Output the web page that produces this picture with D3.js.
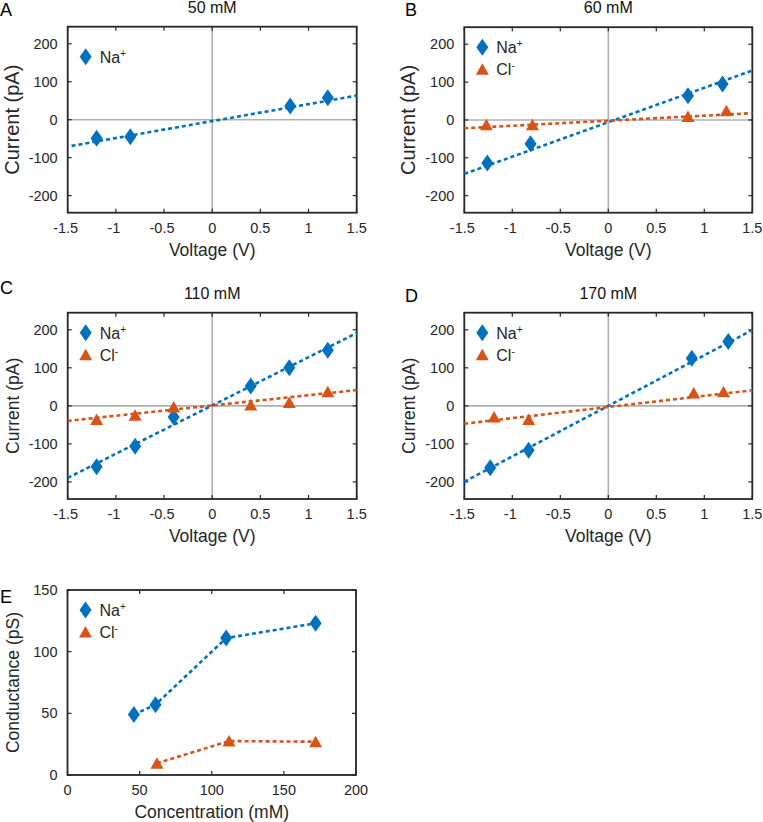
<!DOCTYPE html>
<html>
<head>
<meta charset="utf-8">
<script src="https://cdnjs.cloudflare.com/ajax/libs/d3/7.8.5/d3.min.js"></script>
<style>
  body { margin: 0; background: #fff; }
  svg { display: block; font-family: "Liberation Sans", Arial, sans-serif; }
  .tick-label { font-size: 14.5px; fill: #262626; }
  .axis-title { font-size: 17.5px; fill: #262626; }
  .panel-title { font-size: 16px; fill: #111; }
  .panel-letter { font-size: 18px; fill: #000; }
  .legend-text { font-size: 16px; fill: #262626; }
</style>
</head>
<body>
<div id="chart"></div>
<script>
// I-V panels (A-D) and conductance summary (E)

const voltageTicks = [-1.5, -1, -0.5, 0, 0.5, 1, 1.5];
const currentTicks = [-200, -100, 0, 100, 200];
const concTicks = [0, 50, 100, 150, 200];
const condTicks = [0, 50, 100, 150];

// A - 50 mM
const naV_A = [-1.2, -0.85, 0.81, 1.2];
const naI_A = [-49, -45, 36, 58];
const naFit_A = { slope: 44.7, intercept: -3.7, from: -1.46, to: 1.5 };

// B - 60 mM
const naV_B = [-1.26, -0.81, 0.83, 1.19];
const naI_B = [-114, -63, 64, 95];
const clV_B = [-1.27, -0.79, 0.83, 1.23];
const clI_B = [-13, -13, 9, 24];
const naFit_B = { slope: 91, intercept: -6, from: -1.5, to: 1.5 };
const clFit_B = { slope: 13.3, intercept: -2, from: -1.5, to: 1.5 };

// C - 110 mM
const naV_C = [-1.2, -0.8, -0.4, 0.4, 0.8, 1.2];
const naI_C = [-160, -106, -29, 52, 100, 146];
const clV_C = [-1.2, -0.8, -0.4, 0.4, 0.8, 1.2];
const clI_C = [-36, -25, -3, 2, 9, 37];
const naFit_C = { slope: 127, intercept: 1, from: -1.5, to: 1.5 };
const clFit_C = { slope: 27, intercept: 1, from: -1.5, to: 1.5 };

// D - 170 mM
const naV_D = [-1.23, -0.83, 0.87, 1.25];
const naI_D = [-163, -117, 125, 169];
const clV_D = [-1.19, -0.83, 0.89, 1.2];
const clI_D = [-29, -36, 34, 37];
const naFit_D = { slope: 133, intercept: 0, from: -1.5, to: 1.5 };
const clFit_D = { slope: 29.3, intercept: -3, from: -1.5, to: 1.5 };

// E - conductance vs concentration
const naConc = [46, 61, 110, 172];
const naCond = [49, 57, 111, 123];
const clConc = [62, 112, 172];
const clCond = [9.5, 27.5, 27];

const NA_COLOR = '#0072BD';
const CL_COLOR = '#D95319';
const AXIS_COLOR = '#262626';

const width = 763, height = 822;
const svg = d3.select('#chart').append('svg')
    .attr('width', width)
    .attr('height', height);

const zip = (xs, ys) => xs.map((x, i) => ({ x, y: ys[i] }));
const fitPoints = f => [f.from, f.to].map(v => ({ x: v, y: f.slope * v + f.intercept }));

function diamond(g, x, y, color) {
    g.append('path')
        .attr('d', `M${x},${y - 8.5}L${x + 6},${y}L${x},${y + 8.5}L${x - 6},${y}Z`)
        .attr('fill', color);
}

function triangle(g, x, y, color) {
    g.append('path')
        .attr('d', `M${x},${y - 6}L${x + 6.5},${y + 5.5}L${x - 6.5},${y + 5.5}Z`)
        .attr('fill', color);
}

function ionLabel(g, x, y, base, sup) {
    const t = g.append('text').attr('class', 'legend-text').attr('x', x).attr('y', y);
    t.append('tspan').text(base);
    t.append('tspan').attr('font-size', '10px').attr('dy', -6).text(sup);
}

function drawPanel(p) {
    const g = svg.append('g');
    const x = d3.scaleLinear().domain(p.xDomain).range([p.left, p.right]);
    const y = d3.scaleLinear().domain(p.yDomain).range([p.bottom, p.top]);

    // zero lines
    if (p.zeroLines) {
        g.append('line')
            .attr('x1', x(0)).attr('x2', x(0))
            .attr('y1', p.top).attr('y2', p.bottom)
            .attr('stroke', '#b0b0b0').attr('stroke-width', 1.6);
        g.append('line')
            .attr('x1', p.left).attr('x2', p.right)
            .attr('y1', y(0)).attr('y2', y(0))
            .attr('stroke', '#b0b0b0').attr('stroke-width', 1.6);
    }

    // inner ticks on all four sides (matlab box)
    const tl = 4;
    p.xTicks.forEach(t => {
        g.append('line').attr('x1', x(t)).attr('x2', x(t))
            .attr('y1', p.bottom).attr('y2', p.bottom - tl)
            .attr('stroke', AXIS_COLOR).attr('stroke-width', 1.2);
        g.append('line').attr('x1', x(t)).attr('x2', x(t))
            .attr('y1', p.top).attr('y2', p.top + tl)
            .attr('stroke', AXIS_COLOR).attr('stroke-width', 1.2);
        g.append('text').attr('class', 'tick-label')
            .attr('x', x(t) - (t < 0 ? 2 : 0)).attr('y', p.bottom + 20)
            .attr('text-anchor', 'middle')
            .text(String(t));
    });
    p.yTicks.forEach(t => {
        g.append('line').attr('x1', p.left).attr('x2', p.left + tl)
            .attr('y1', y(t)).attr('y2', y(t))
            .attr('stroke', AXIS_COLOR).attr('stroke-width', 1.2);
        g.append('line').attr('x1', p.right).attr('x2', p.right - tl)
            .attr('y1', y(t)).attr('y2', y(t))
            .attr('stroke', AXIS_COLOR).attr('stroke-width', 1.2);
        g.append('text').attr('class', 'tick-label')
            .attr('x', p.left - 10).attr('y', y(t) + 5)
            .attr('text-anchor', 'end')
            .text(String(t));
    });

    // box
    g.append('rect')
        .attr('x', p.left).attr('y', p.top)
        .attr('width', p.right - p.left).attr('height', p.bottom - p.top)
        .attr('fill', 'none').attr('stroke', AXIS_COLOR).attr('stroke-width', 1.8);

    const line = d3.line().x(d => x(d.x)).y(d => y(d.y));

    p.series.forEach(s => {
        g.append('path')
            .datum(s.line)
            .attr('d', line)
            .attr('fill', 'none')
            .attr('stroke', s.color)
            .attr('stroke-width', 2.6)
            .attr('stroke-dasharray', '4,3');
    });
    p.series.forEach(s => {
        s.points.forEach(d => s.marker(g, x(d.x), y(d.y), s.color));
    });

    // legend
    p.series.forEach((s, i) => {
        const ly = p.top + p.legendTop + i * 22;
        s.marker(g, p.left + 18, ly, s.color);
        ionLabel(g, p.left + 32, ly + 6, s.ion, s.sup);
    });

    // titles
    if (p.title) {
        g.append('text').attr('class', 'panel-title')
            .attr('x', (p.left + p.right) / 2).attr('y', p.top - 14)
            .attr('text-anchor', 'middle').text(p.title);
    }
    g.append('text').attr('class', 'panel-letter')
        .attr('x', p.letterX).attr('y', p.letterY).text(p.letter);

    g.append('text').attr('class', 'axis-title')
        .attr('x', (p.left + p.right) / 2).attr('y', p.bottom + 43)
        .attr('text-anchor', 'middle').text(p.xLabel);
    const yl = g.append('text').attr('class', 'axis-title')
        .attr('transform', `translate(${p.left - 49},${(p.top + p.bottom) / 2}) rotate(-90)`)
        .attr('text-anchor', 'middle').text(p.yLabel);
    if (p.yLabelSize) yl.style('font-size', p.yLabelSize + 'px');
}

const naSeries = (xs, ys, fit) => ({ ion: 'Na', sup: '+', color: NA_COLOR, marker: diamond, points: zip(xs, ys), line: fitPoints(fit) });
const clSeries = (xs, ys, fit) => ({ ion: 'Cl', sup: '-', color: CL_COLOR, marker: triangle, points: zip(xs, ys), line: fitPoints(fit) });

const ivBase = {
    xDomain: [-1.5, 1.5], yDomain: [-245, 245],
    xTicks: voltageTicks, yTicks: currentTicks,
    xLabel: 'Voltage (V)', yLabel: 'Current (pA)', zeroLines: true
};

drawPanel(Object.assign({}, ivBase, {
    left: 67.7, right: 356.7, top: 26.7, bottom: 212.7,
    title: '50 mM', letter: 'A', letterX: 0, letterY: 16, legendTop: 30,
    yLabelSize: 20,
    series: [naSeries(naV_A, naI_A, naFit_A)]
}));
drawPanel(Object.assign({}, ivBase, {
    left: 464.3, right: 752.3, top: 27.2, bottom: 212.7,
    title: '60 mM', letter: 'B', letterX: 405, letterY: 16, legendTop: 20,
    yLabelSize: 20,
    series: [naSeries(naV_B, naI_B, naFit_B), clSeries(clV_B, clI_B, clFit_B)]
}));
drawPanel(Object.assign({}, ivBase, {
    left: 67.7, right: 356.7, top: 312.7, bottom: 499,
    title: '110 mM', letter: 'C', letterX: 0, letterY: 294, legendTop: 20,
    series: [naSeries(naV_C, naI_C, naFit_C), clSeries(clV_C, clI_C, clFit_C)]
}));
drawPanel(Object.assign({}, ivBase, {
    left: 464.3, right: 752.3, top: 312.7, bottom: 499,
    title: '170 mM', letter: 'D', letterX: 405, letterY: 302, legendTop: 20,
    series: [naSeries(naV_D, naI_D, naFit_D), clSeries(clV_D, clI_D, clFit_D)]
}));
drawPanel({
    xDomain: [0, 200], yDomain: [0, 150],
    xTicks: concTicks, yTicks: condTicks,
    xLabel: 'Concentration (mM)', yLabel: 'Conductance (pS)', zeroLines: false,
    left: 67.5, right: 356, top: 590, bottom: 775,
    title: null, letter: 'E', letterX: 0, letterY: 603, legendTop: 20,
    series: [
        { ion: 'Na', sup: '+', color: NA_COLOR, marker: diamond, points: zip(naConc, naCond), line: zip(naConc, naCond) },
        { ion: 'Cl', sup: '-', color: CL_COLOR, marker: triangle, points: zip(clConc, clCond), line: zip(clConc, clCond) }
    ]
});
</script>
</body>
</html>
